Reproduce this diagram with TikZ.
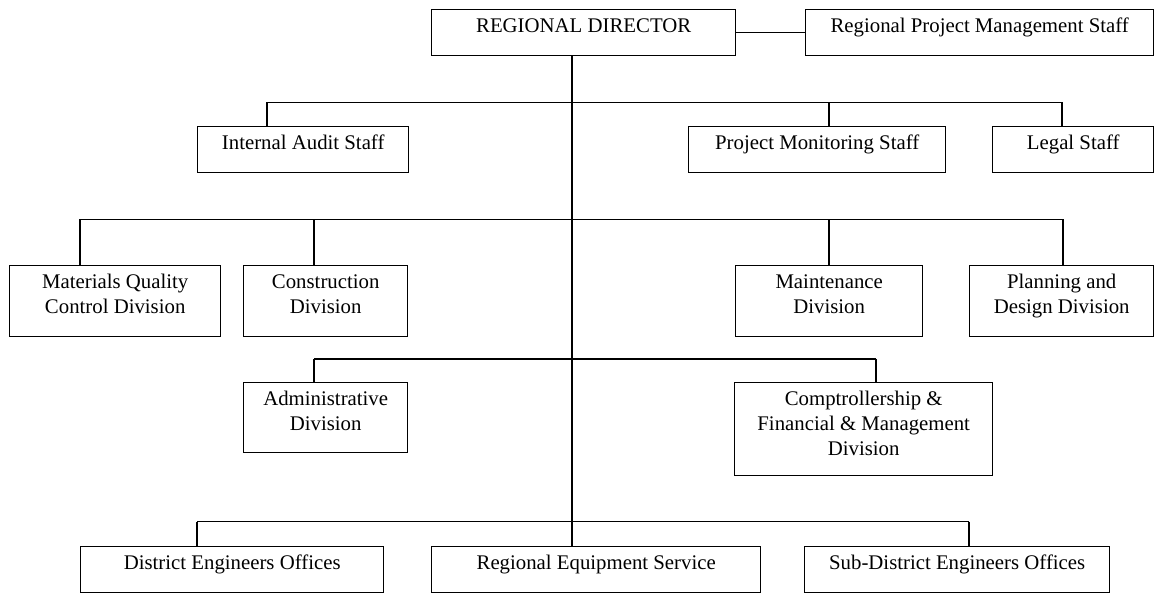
\documentclass[tikz,border=0pt]{standalone}
\usepackage{fontspec}
\setmainfont{Liberation Serif}
\newcommand{\orgtext}[3]{\parbox[c][#2][t]{#1}{\centering\rule{0pt}{23pt}#3\par}}
\begin{document}
\begin{tikzpicture}[x=1pt,y=-1pt,
  orgbox/.style={draw, line width=1.4pt, inner sep=0pt, anchor=north west},
  link/.style={line width=1.4pt},
  font=\fontsize{20.8}{25}\selectfont]
\useasboundingbox (0,0) rectangle (1154,593);
% row 1
\node[orgbox] (rd)   at (431,9)  {\orgtext{304pt}{46pt}{REGIONAL DIRECTOR}};
\node[orgbox] (rpms) at (805,9)  {\orgtext{348pt}{46pt}{Regional Project Management Staff}};
% row 2
\node[orgbox] (ias)   at (197,126) {\orgtext{211pt}{46pt}{Internal Audit Staff}};
\node[orgbox] (pms)   at (688,126) {\orgtext{257pt}{46pt}{Project Monitoring Staff}};
\node[orgbox] (legal) at (992,126) {\orgtext{161pt}{46pt}{Legal Staff}};
% row 3
\node[orgbox] (mqcd)  at (9,265)   {\orgtext{211pt}{71pt}{Materials Quality\\Control Division}};
\node[orgbox] (cons)  at (243,265) {\orgtext{164pt}{71pt}{Construction\\Division}};
\node[orgbox] (maint) at (735,265) {\orgtext{187pt}{71pt}{Maintenance\\Division}};
\node[orgbox] (plan)  at (969,265) {\orgtext{184pt}{71pt}{Planning and\\Design Division}};
% row 4
\node[orgbox] (admin) at (243,382) {\orgtext{164pt}{70pt}{Administrative\\Division}};
\node[orgbox] (comp)  at (734,382) {\orgtext{258pt}{93pt}{Comptrollership \&\\Financial \& Management\\Division}};
% row 5
\node[orgbox] (deo)  at (80,546)  {\orgtext{303pt}{46pt}{District Engineers Offices}};
\node[orgbox] (res)  at (431,546) {\orgtext{329pt}{46pt}{Regional Equipment Service}};
\node[orgbox] (sdeo) at (804,546) {\orgtext{305pt}{46pt}{Sub-District Engineers Offices}};

% junction coordinates
\coordinate (trunk) at (572,0);
\coordinate (j2a) at (267,102.3);
\coordinate (j2b) at (829,102.3);
\coordinate (j2c) at (1062,102.3);
\coordinate (j3a) at (80,219.3);
\coordinate (j3b) at (314,219.3);
\coordinate (j3c) at (829,219.3);
\coordinate (j3d) at (1063,219.3);
\coordinate (j4a) at (314,359);
\coordinate (j4b) at (876,359);
\coordinate (j5a) at (197,521.7);
\coordinate (j5c) at (969,521.7);

% connectors
\draw[link] (rd.east) -- (rpms.west);
\draw[link] (rd.south -| trunk) -- (res.north -| trunk);
% bus 2
\draw[link] (j2a) -- (j2c);
\draw[link] (j2a) -- (j2a |- ias.north);
\draw[link] (j2b) -- (j2b |- pms.north);
\draw[link] (j2c) -- (j2c |- legal.north);
% bus 3
\draw[link] (j3a) -- (j3d);
\draw[link] (j3a) -- (j3a |- mqcd.north);
\draw[link] (j3b) -- (j3b |- cons.north);
\draw[link] (j3c) -- (j3c |- maint.north);
\draw[link] (j3d) -- (j3d |- plan.north);
% bus 4
\draw[link] (j4a) -- (j4b);
\draw[link] (j4a) -- (j4a |- admin.north);
\draw[link] (j4b) -- (j4b |- comp.north);
% bus 5
\draw[link] (j5a) -- (j5c);
\draw[link] (j5a) -- (j5a |- deo.north);
\draw[link] (j5c) -- (j5c |- sdeo.north);
\end{tikzpicture}
\end{document}
